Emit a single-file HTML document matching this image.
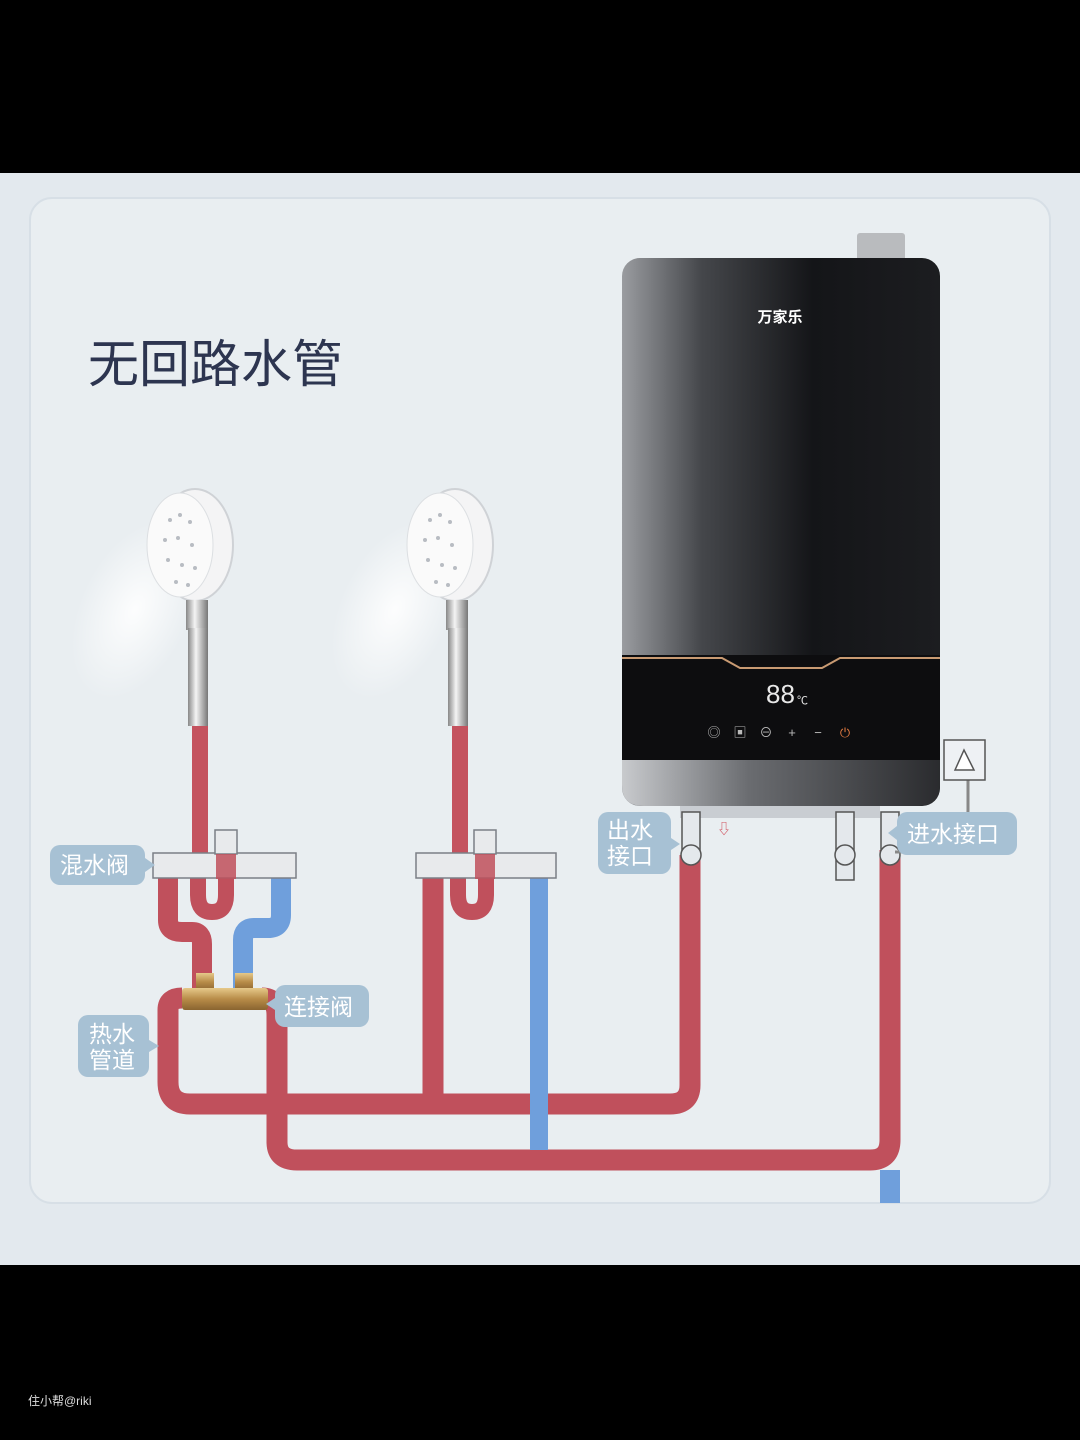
<!DOCTYPE html>
<html><head><meta charset="utf-8"><style>
html,body{margin:0;padding:0;background:#000;}
svg{display:block}
text{font-family:"Liberation Sans","Noto Sans CJK SC",sans-serif;}
</style></head><body>
<svg width="1080" height="1440" viewBox="0 0 1080 1440" xmlns="http://www.w3.org/2000/svg">
<defs>
<linearGradient id="body" x1="0" x2="1" y1="0" y2="0">
<stop offset="0" stop-color="#9a9ca0"/><stop offset="0.25" stop-color="#45474b"/><stop offset="0.6" stop-color="#141518"/><stop offset="1" stop-color="#1c1d20"/>
</linearGradient>
<linearGradient id="silver" x1="0" x2="1"><stop offset="0" stop-color="#c8cacd"/><stop offset="0.4" stop-color="#6a6c70"/><stop offset="1" stop-color="#2a2b2e"/></linearGradient>
<linearGradient id="brass" x1="0" x2="0" y1="0" y2="1"><stop offset="0" stop-color="#e6c98a"/><stop offset="0.5" stop-color="#b88c48"/><stop offset="1" stop-color="#8a6430"/></linearGradient>
<radialGradient id="spray" cx="0.5" cy="0.5" r="0.5"><stop offset="0" stop-color="#ffffff" stop-opacity="0.9"/><stop offset="1" stop-color="#ffffff" stop-opacity="0"/></radialGradient>
<linearGradient id="handle" x1="0" x2="1"><stop offset="0" stop-color="#888"/><stop offset="0.4" stop-color="#f4f4f4"/><stop offset="1" stop-color="#777"/></linearGradient>
</defs>
<rect x="0" y="0" width="1080" height="1440" fill="#000"/>
<rect x="0" y="173" width="1080" height="1092" fill="#e3e9ee"/>
<rect x="30" y="198" width="1020" height="1005" rx="22" fill="#e9eef1" stroke="#d7dfe6" stroke-width="2"/>
<text x="88" y="382" font-size="51" fill="#2d3550">无回路水管</text>

<ellipse cx="135" cy="610" rx="55" ry="95" fill="url(#spray)" transform="rotate(25 135 610)"/>
<ellipse cx="395" cy="610" rx="55" ry="95" fill="url(#spray)" transform="rotate(25 395 610)"/>

<g>
<ellipse cx="195" cy="545" rx="38" ry="56" fill="#f4f4f5" stroke="#cfd2d6" stroke-width="2"/>
<ellipse cx="180" cy="545" rx="33" ry="52" fill="#fafafa" stroke="#dcdfe2"/>
<g fill="#b8bcc2">
<circle cx="170" cy="520" r="2"/><circle cx="180" cy="515" r="2"/><circle cx="190" cy="522" r="2"/><circle cx="165" cy="540" r="2"/><circle cx="178" cy="538" r="2"/><circle cx="192" cy="545" r="2"/><circle cx="168" cy="560" r="2"/><circle cx="182" cy="565" r="2"/><circle cx="195" cy="568" r="2"/><circle cx="176" cy="582" r="2"/><circle cx="188" cy="585" r="2"/>
</g>
<rect x="186" y="600" width="22" height="30" fill="url(#handle)"/>
<rect x="188" y="628" width="20" height="98" fill="url(#handle)"/>
</g>
<g>
<ellipse cx="455" cy="545" rx="38" ry="56" fill="#f4f4f5" stroke="#cfd2d6" stroke-width="2"/>
<ellipse cx="440" cy="545" rx="33" ry="52" fill="#fafafa" stroke="#dcdfe2"/>
<g fill="#b8bcc2">
<circle cx="430" cy="520" r="2"/><circle cx="440" cy="515" r="2"/><circle cx="450" cy="522" r="2"/><circle cx="425" cy="540" r="2"/><circle cx="438" cy="538" r="2"/><circle cx="452" cy="545" r="2"/><circle cx="428" cy="560" r="2"/><circle cx="442" cy="565" r="2"/><circle cx="455" cy="568" r="2"/><circle cx="436" cy="582" r="2"/><circle cx="448" cy="585" r="2"/>
</g>
<rect x="446" y="600" width="22" height="30" fill="url(#handle)"/>
<rect x="448" y="628" width="20" height="98" fill="url(#handle)"/>
</g>

<g fill="none" stroke-linejoin="round" stroke-linecap="butt">
<path d="M200 726 V860" stroke="#c4525e" stroke-width="16"/>
<path d="M460 726 V860" stroke="#c4525e" stroke-width="16"/>
<path d="M690 855 V1085 Q690 1104 670 1104 H190 Q168 1104 168 1082 V1010 Q168 998 182 998" stroke="#c0505c" stroke-width="21"/>
<path d="M433 878 V1104" stroke="#c0505c" stroke-width="21"/>
<path d="M262 998 Q277 998 277 1015 V1142 Q277 1160 297 1160 H870 Q890 1160 890 1140 V850" stroke="#c0505c" stroke-width="21"/>
<path d="M890 1170 V1203" stroke="#6f9fdc" stroke-width="20"/>
<path d="M168 878 V920 Q168 932 182 932 H192 Q202 932 202 944 V990" stroke="#c0505c" stroke-width="20"/>
<path d="M198 878 V895 Q198 912 212 912 Q226 912 226 895 V870" stroke="#c0505c" stroke-width="16"/>
<path d="M281 878 V915 Q281 928 268 928 H254 Q243 928 243 940 V990" stroke="#6f9fdc" stroke-width="20"/>
<path d="M458 878 V895 Q458 912 472 912 Q486 912 486 895 V870" stroke="#c0505c" stroke-width="16"/>
<path d="M539 878 V1150" stroke="#6f9fdc" stroke-width="18"/>
</g>
<rect x="153" y="853" width="143" height="25" fill="#e8eaec" stroke="#7b7f86" stroke-width="1.5"/>
<rect x="215" y="830" width="22" height="24" fill="#e8eaec" stroke="#7b7f86" stroke-width="1.5"/>
<rect x="216" y="854" width="20" height="25" fill="#c0505c" opacity="0.85"/>
<rect x="416" y="853" width="140" height="25" fill="#e8eaec" stroke="#7b7f86" stroke-width="1.5"/>
<rect x="474" y="830" width="22" height="24" fill="#e8eaec" stroke="#7b7f86" stroke-width="1.5"/>
<rect x="475" y="854" width="20" height="25" fill="#c0505c" opacity="0.85"/>
<rect x="196" y="973" width="18" height="18" fill="url(#brass)"/>
<rect x="235" y="973" width="18" height="18" fill="url(#brass)"/>
<rect x="182" y="988" width="86" height="22" rx="3" fill="url(#brass)"/>

<rect x="857" y="233" width="48" height="30" rx="3" fill="#b9bbbe"/>
<rect x="622" y="258" width="318" height="548" rx="18" fill="url(#body)"/>
<text x="780" y="322" font-size="15" fill="#fff" text-anchor="middle" font-weight="bold">万家乐</text>
<rect x="622" y="655" width="318" height="105" fill="#0d0d0f"/>
<path d="M622 658 H722 L740 668 H822 L840 658 H940" stroke="#c89a72" stroke-width="2" fill="none"/>
<text x="766" y="703" font-size="26" fill="#e8e8e8">88</text>
<text x="797" y="704" font-size="11" fill="#e8e8e8">℃</text>
<g fill="#bbb" font-size="13" text-anchor="middle">
<text x="714" y="737">◎</text><text x="740" y="737">▣</text><text x="766" y="737">⊖</text><text x="792" y="737">+</text><text x="818" y="737">−</text><text x="845" y="737" fill="#e07a40">⏻</text>
</g>
<path d="M622 760 H940 V785 Q940 806 918 806 H644 Q622 806 622 785 Z" fill="url(#silver)"/>
<rect x="680" y="806" width="200" height="12" fill="#c9cdd2"/>
<g fill="#e4e8ec" stroke="#555" stroke-width="1.5">
<rect x="682" y="812" width="18" height="45"/><circle cx="691" cy="855" r="10"/>
<rect x="836" y="812" width="18" height="68"/><circle cx="845" cy="855" r="10"/>
<rect x="881" y="812" width="18" height="45"/><circle cx="890" cy="855" r="10"/>
</g>
<path d="M968 780 V810 Q968 850 930 852 H895" stroke="#888" stroke-width="3" fill="none"/>
<rect x="944" y="740" width="41" height="40" fill="#eef1f4" stroke="#555" stroke-width="1.5"/>
<path d="M955 770 L964 750 L974 770 Z" fill="#fff" stroke="#555" stroke-width="1.5"/>
<text x="717" y="834" font-size="14" fill="#d0505c">⇩</text>

<g fill="#a7c1d4">
<rect x="50" y="845" width="95" height="40" rx="10"/><path d="M145 858 L155 865 L145 872Z"/>
<rect x="78" y="1015" width="71" height="62" rx="10"/><path d="M149 1040 L159 1046 L149 1052Z"/>
<rect x="275" y="985" width="94" height="42" rx="10"/><path d="M275 998 L266 1004 L275 1010Z"/>
<rect x="598" y="812" width="73" height="62" rx="10"/><path d="M671 838 L680 844 L671 850Z"/>
<rect x="897" y="812" width="120" height="43" rx="10"/><path d="M897 826 L888 833 L897 840Z"/>
</g>
<g fill="#fff" font-size="23">
<text x="60" y="873">混水阀</text>
<text x="89" y="1042">热水</text><text x="89" y="1068">管道</text>
<text x="284" y="1015">连接阀</text>
<text x="607" y="838">出水</text><text x="607" y="864">接口</text>
<text x="907" y="842">进水接口</text>
</g>
<text x="28" y="1405" font-size="12" fill="#ddd">住小帮@riki</text>
</svg>
</body></html>
